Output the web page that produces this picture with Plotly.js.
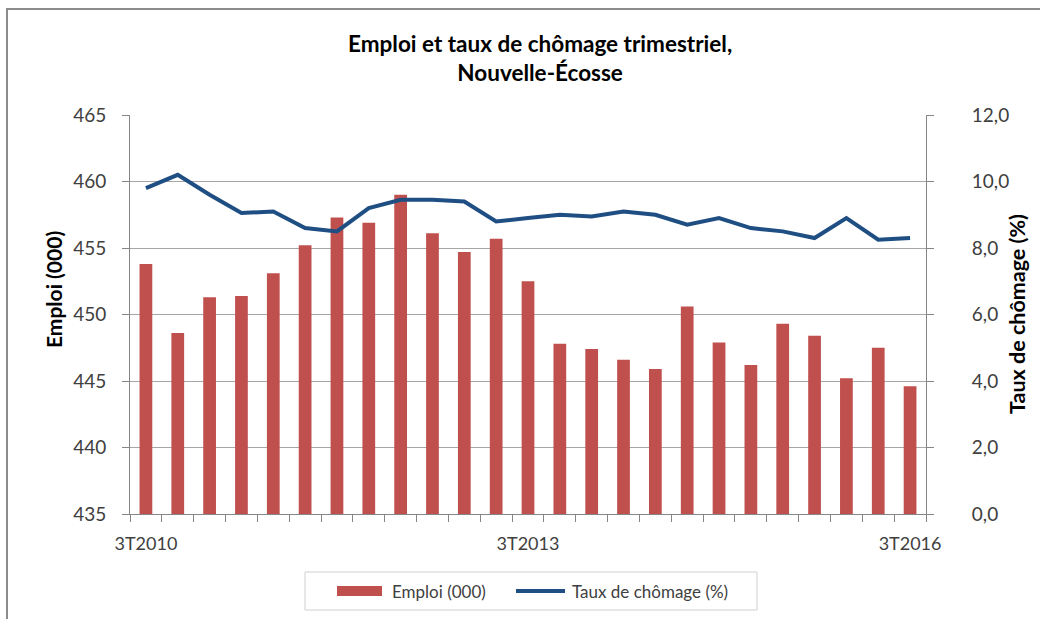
<!DOCTYPE html>
<html>
<head>
<meta charset="utf-8">
<script src="https://cdn.plot.ly/plotly-3.0.1.min.js"></script>
<style>
  html, body { margin: 0; padding: 0; background: #fff; }
  #chart { width: 1040px; height: 619px; }
</style>
</head>
<body>
<div id="chart"></div>
<script>
const quarters = ["3T2010","4T2010","1T2011","2T2011","3T2011","4T2011","1T2012","2T2012","3T2012","4T2012","1T2013","2T2013","3T2013","4T2013","1T2014","2T2014","3T2014","4T2014","1T2015","2T2015","3T2015","4T2015","1T2016","2T2016","3T2016"];
const emploi = [453.8,448.6,451.3,451.4,453.1,455.2,457.3,456.9,459.0,456.1,454.7,455.7,452.5,447.8,447.4,446.6,445.9,450.6,447.9,446.2,449.3,448.4,445.2,447.5,444.6];
const chomage = [9.8,10.2,9.6,9.05,9.1,8.6,8.5,9.2,9.45,9.45,9.4,8.8,8.9,9.0,8.95,9.1,9.0,8.7,8.9,8.6,8.5,8.3,8.9,8.25,8.3];
const shownLabels = ["3T2010","3T2013","3T2016"];

const titleLines = ["Emploi et taux de chômage trimestriel,", "Nouvelle-Écosse"];
const seriesNames = ["Emploi (000)", "Taux de chômage (%)"];
const leftTitle = "Emploi (000)";
const rightTitle = "Taux de chômage (%)";

const BAR_COLOR = "#C0504D";
const LINE_COLOR = "#1F4E83";
const FONT = "Lato, 'Open Sans', sans-serif";
const W = 1040, H = 619;
const L = 130, R = 114, T = 115, B = 105;
const pw = W - L - R, ph = H - T - B;
const px = v => (v - L) / pw;
const py = v => 1 - (v - T) / ph;

const traces = [
  {
    type: "bar",
    name: seriesNames[0],
    x: quarters,
    y: emploi,
    marker: { color: BAR_COLOR },
    yaxis: "y",
    showlegend: false
  },
  {
    type: "scatter",
    mode: "lines",
    name: seriesNames[1],
    x: quarters,
    y: chomage,
    line: { color: LINE_COLOR, width: 4 },
    yaxis: "y2",
    showlegend: false
  }
];

const layout = {
  width: W, height: H,
  margin: { l: L, r: R, t: T, b: B },
  paper_bgcolor: "#ffffff",
  plot_bgcolor: "#ffffff",
  separators: ", ",
  font: { family: FONT, color: "#404040", size: 17 },
  bargap: 0.6,
  showlegend: false,
  xaxis: {
    type: "category",
    categoryorder: "array",
    categoryarray: quarters,
    tickmode: "array",
    tickvals: quarters,
    ticktext: quarters.map(q => shownLabels.includes(q) ? q : ""),
    tickson: "boundaries",
    ticks: "outside", ticklen: 7, tickcolor: "#868686", tickwidth: 1,
    showline: true, linecolor: "#868686", linewidth: 1,
    showgrid: false,
    tickangle: 0,
    ticklabelstandoff: 13,
    tickfont: { family: FONT, size: 18, color: "#404040" }
  },
  yaxis: {
    range: [435, 465],
    dtick: 5, tick0: 435,
    ticks: "outside", ticklen: 7, tickcolor: "#868686",
    showline: true, linecolor: "#868686", linewidth: 1,
    showgrid: true, gridcolor: "#A6A6A6", gridwidth: 1,
    zeroline: false,
    ticklabelstandoff: 12,
    tickfont: { family: FONT, size: 19, color: "#404040" }
  },
  yaxis2: {
    overlaying: "y",
    anchor: "x",
    side: "right",
    range: [0, 12],
    dtick: 2, tick0: 0,
    tickformat: ".1f",
    ticks: "outside", ticklen: 7, tickcolor: "#868686",
    showline: true, linecolor: "#868686", linewidth: 1,
    showgrid: false, zeroline: false,
    ticklabelstandoff: 34,
    tickfont: { family: FONT, size: 19, color: "#404040" }
  },
  annotations: [
    {
      text: "<b>" + titleLines.join("<br>") + "</b>",
      xref: "paper", yref: "paper",
      x: px(540), y: py(58), xanchor: "center", yanchor: "middle",
      showarrow: false,
      font: { family: FONT, size: 22.5, color: "#000000" }
    },
    {
      text: "<b>" + leftTitle + "</b>",
      xref: "paper", yref: "paper",
      x: px(53), y: py(290), xanchor: "center", yanchor: "middle",
      textangle: -90, showarrow: false,
      font: { family: FONT, size: 21, color: "#000000" }
    },
    {
      text: "<b>" + rightTitle + "</b>",
      xref: "paper", yref: "paper",
      x: px(1017), y: py(314), xanchor: "center", yanchor: "middle",
      textangle: -90, showarrow: false,
      font: { family: FONT, size: 21.5, color: "#000000" }
    },
    {
      text: seriesNames[0],
      xref: "paper", yref: "paper",
      x: px(390), y: py(591), xanchor: "left", yanchor: "middle",
      showarrow: false,
      font: { family: FONT, size: 17, color: "#404040" }
    },
    {
      text: seriesNames[1],
      xref: "paper", yref: "paper",
      x: px(570), y: py(591), xanchor: "left", yanchor: "middle",
      showarrow: false,
      font: { family: FONT, size: 17, color: "#404040" }
    }
  ],
  shapes: [
    { type: "line", xref: "paper", yref: "paper", x0: px(6), x1: px(1040), y0: py(9), y1: py(9), line: { color: "#8C8C8C", width: 2 } },
    { type: "line", xref: "paper", yref: "paper", x0: px(7), x1: px(7), y0: py(8), y1: py(619), line: { color: "#8C8C8C", width: 2 } },
    { type: "rect", xref: "paper", yref: "paper", x0: px(305), x1: px(757), y0: py(572), y1: py(610), line: { color: "#D0D0D0", width: 1 }, fillcolor: "rgba(0,0,0,0)" },
    { type: "rect", xref: "paper", yref: "paper", x0: px(337), x1: px(382), y0: py(586), y1: py(596), line: { width: 0 }, fillcolor: BAR_COLOR },
    { type: "line", xref: "paper", yref: "paper", x0: px(516), x1: px(565), y0: py(591), y1: py(591), line: { color: LINE_COLOR, width: 4 } }
  ]
};

Plotly.newPlot("chart", traces, layout, { displayModeBar: false, staticPlot: true });
</script>
</body>
</html>
